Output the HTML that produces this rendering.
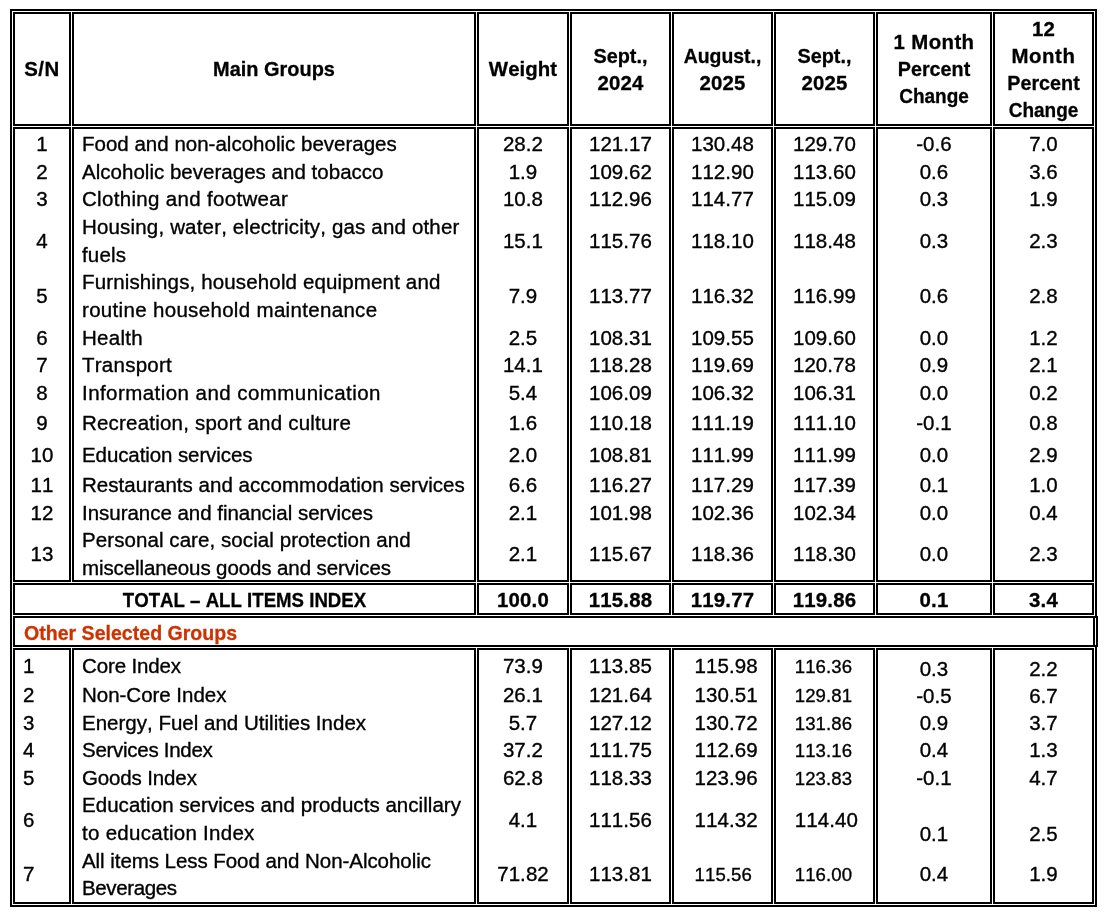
<!DOCTYPE html>
<html lang="en">
<head>
<meta charset="utf-8">
<title>Consumer Price Index by Main Groups</title>
<style>
html,body{margin:0;padding:0;background:#fff}
body{width:1106px;height:914px;position:relative;overflow:hidden;font-family:"Liberation Sans",sans-serif;color:#000;font-kerning:none}
#tb{position:absolute;left:10px;top:9px;width:1087px;height:898px;box-sizing:border-box;border:2px solid #000}
.bx{position:absolute;box-sizing:border-box;border:2px solid #000}
#nub{position:absolute;left:1095px;top:616px;width:3px;height:31px;box-sizing:border-box;background:#fff;border:2px solid #000;border-left:0}
.t{position:absolute;height:28px;line-height:28px;text-align:center;white-space:nowrap;font-weight:400;-webkit-text-stroke-width:0.35px}
.t.b{font-weight:700;-webkit-text-stroke-width:0.3px}
.t.l{text-align:left;transform-origin:0 50%}
</style>
</head>
<body>
<div id="tb"></div>
<!-- column headings -->
<section class="band head">
<div class="bx" style="left:13px;top:12px;width:58px;height:114px"></div>
<div class="bx" style="left:72px;top:12px;width:404px;height:114px"></div>
<div class="bx" style="left:477px;top:12px;width:92px;height:114px"></div>
<div class="bx" style="left:570px;top:12px;width:101px;height:114px"></div>
<div class="bx" style="left:672px;top:12px;width:101px;height:114px"></div>
<div class="bx" style="left:774px;top:12px;width:101px;height:114px"></div>
<div class="bx" style="left:876px;top:12px;width:116px;height:114px"></div>
<div class="bx" style="left:993px;top:12px;width:101px;height:114px"></div>
<div class="t b" style="left:13px;top:55.00px;width:58px;font-size:20.40px;letter-spacing:0.461px">S/N</div>
<div class="t b" style="left:72px;top:55.00px;width:404px;font-size:20.40px;transform:scaleX(0.9780)">Main Groups</div>
<div class="t b" style="left:477px;top:55.00px;width:92px;font-size:20.40px;letter-spacing:0.052px">Weight</div>
<div class="t b" style="left:570px;top:42.00px;width:101px;font-size:20.40px;transform:scaleX(0.9732)">Sept.,</div>
<div class="t b" style="left:570px;top:69.00px;width:101px;font-size:20.40px;letter-spacing:0.144px">2024</div>
<div class="t b" style="left:672px;top:42.00px;width:101px;font-size:20.40px;transform:scaleX(0.9513)">August.,</div>
<div class="t b" style="left:672px;top:69.00px;width:101px;font-size:20.40px;letter-spacing:0.144px">2025</div>
<div class="t b" style="left:774px;top:42.00px;width:101px;font-size:20.40px;transform:scaleX(0.9732)">Sept.,</div>
<div class="t b" style="left:774px;top:69.00px;width:101px;font-size:20.40px;letter-spacing:0.144px">2025</div>
<div class="t b" style="left:876px;top:28.00px;width:116px;font-size:20.40px;letter-spacing:0.375px">1 Month</div>
<div class="t b" style="left:876px;top:55.00px;width:116px;font-size:20.40px;transform:scaleX(0.9682)">Percent</div>
<div class="t b" style="left:876px;top:82.00px;width:116px;font-size:20.40px;transform:scaleX(0.9315)">Change</div>
<div class="t b" style="left:993px;top:15.00px;width:101px;font-size:20.40px;letter-spacing:0.144px">12</div>
<div class="t b" style="left:993px;top:42.00px;width:101px;font-size:20.40px;letter-spacing:0.604px">Month</div>
<div class="t b" style="left:993px;top:69.00px;width:101px;font-size:20.40px;transform:scaleX(0.9682)">Percent</div>
<div class="t b" style="left:993px;top:96.00px;width:101px;font-size:20.40px;transform:scaleX(0.9315)">Change</div>
</section>
<!-- main groups 1-13 -->
<section class="band groups">
<div class="bx" style="left:13px;top:127px;width:58px;height:455px"></div>
<div class="bx" style="left:72px;top:127px;width:404px;height:455px"></div>
<div class="bx" style="left:477px;top:127px;width:92px;height:455px"></div>
<div class="bx" style="left:570px;top:127px;width:101px;height:455px"></div>
<div class="bx" style="left:672px;top:127px;width:101px;height:455px"></div>
<div class="bx" style="left:774px;top:127px;width:101px;height:455px"></div>
<div class="bx" style="left:876px;top:127px;width:116px;height:455px"></div>
<div class="bx" style="left:993px;top:127px;width:101px;height:455px"></div>
<div class="t" style="left:13px;top:129.50px;width:58px;font-size:20.50px;letter-spacing:0.089px">1</div>
<div class="t l" style="left:82px;top:129.50px;width:390px;font-size:20.50px;letter-spacing:0.007px">Food and non-alcoholic beverages</div>
<div class="t" style="left:477px;top:129.50px;width:92px;font-size:20.50px;letter-spacing:0.073px">28.2</div>
<div class="t" style="left:570px;top:129.50px;width:101px;font-size:20.50px;letter-spacing:0.079px">121.17</div>
<div class="t" style="left:672px;top:129.50px;width:101px;font-size:20.50px;letter-spacing:0.079px">130.48</div>
<div class="t" style="left:774px;top:129.50px;width:101px;font-size:20.50px;letter-spacing:0.079px">129.70</div>
<div class="t" style="left:876px;top:129.50px;width:116px;font-size:20.50px;letter-spacing:0.080px">-0.6</div>
<div class="t" style="left:993px;top:129.50px;width:101px;font-size:20.50px;letter-spacing:0.068px">7.0</div>
<div class="t" style="left:13px;top:157.50px;width:58px;font-size:20.50px;letter-spacing:0.089px">2</div>
<div class="t l" style="left:82px;top:157.50px;width:390px;font-size:20.50px;letter-spacing:0.021px">Alcoholic beverages and tobacco</div>
<div class="t" style="left:477px;top:157.50px;width:92px;font-size:20.50px;letter-spacing:0.068px">1.9</div>
<div class="t" style="left:570px;top:157.50px;width:101px;font-size:20.50px;letter-spacing:0.079px">109.62</div>
<div class="t" style="left:672px;top:157.50px;width:101px;font-size:20.50px;letter-spacing:0.079px">112.90</div>
<div class="t" style="left:774px;top:157.50px;width:101px;font-size:20.50px;letter-spacing:0.079px">113.60</div>
<div class="t" style="left:876px;top:157.50px;width:116px;font-size:20.50px;letter-spacing:0.068px">0.6</div>
<div class="t" style="left:993px;top:157.50px;width:101px;font-size:20.50px;letter-spacing:0.068px">3.6</div>
<div class="t" style="left:13px;top:184.50px;width:58px;font-size:20.50px;letter-spacing:0.089px">3</div>
<div class="t l" style="left:82px;top:184.50px;width:390px;font-size:20.50px;letter-spacing:0.319px">Clothing and footwear</div>
<div class="t" style="left:477px;top:184.50px;width:92px;font-size:20.50px;letter-spacing:0.073px">10.8</div>
<div class="t" style="left:570px;top:184.50px;width:101px;font-size:20.50px;letter-spacing:0.079px">112.96</div>
<div class="t" style="left:672px;top:184.50px;width:101px;font-size:20.50px;letter-spacing:0.079px">114.77</div>
<div class="t" style="left:774px;top:184.50px;width:101px;font-size:20.50px;letter-spacing:0.079px">115.09</div>
<div class="t" style="left:876px;top:184.50px;width:116px;font-size:20.50px;letter-spacing:0.068px">0.3</div>
<div class="t" style="left:993px;top:184.50px;width:101px;font-size:20.50px;letter-spacing:0.068px">1.9</div>
<div class="t" style="left:13px;top:226.50px;width:58px;font-size:20.50px;letter-spacing:0.089px">4</div>
<div class="t l" style="left:82px;top:212.50px;width:390px;font-size:20.50px;letter-spacing:0.171px">Housing, water, electricity, gas and other</div>
<div class="t l" style="left:82px;top:240.50px;width:390px;font-size:20.50px;letter-spacing:0.175px">fuels</div>
<div class="t" style="left:477px;top:226.50px;width:92px;font-size:20.50px;letter-spacing:0.073px">15.1</div>
<div class="t" style="left:570px;top:226.50px;width:101px;font-size:20.50px;letter-spacing:0.079px">115.76</div>
<div class="t" style="left:672px;top:226.50px;width:101px;font-size:20.50px;letter-spacing:0.079px">118.10</div>
<div class="t" style="left:774px;top:226.50px;width:101px;font-size:20.50px;letter-spacing:0.079px">118.48</div>
<div class="t" style="left:876px;top:226.50px;width:116px;font-size:20.50px;letter-spacing:0.068px">0.3</div>
<div class="t" style="left:993px;top:226.50px;width:101px;font-size:20.50px;letter-spacing:0.068px">2.3</div>
<div class="t" style="left:13px;top:281.50px;width:58px;font-size:20.50px;letter-spacing:0.089px">5</div>
<div class="t l" style="left:82px;top:267.50px;width:390px;font-size:20.50px;letter-spacing:0.144px">Furnishings, household equipment and</div>
<div class="t l" style="left:82px;top:295.50px;width:390px;font-size:20.50px;letter-spacing:0.322px">routine household maintenance</div>
<div class="t" style="left:477px;top:281.50px;width:92px;font-size:20.50px;letter-spacing:0.068px">7.9</div>
<div class="t" style="left:570px;top:281.50px;width:101px;font-size:20.50px;letter-spacing:0.079px">113.77</div>
<div class="t" style="left:672px;top:281.50px;width:101px;font-size:20.50px;letter-spacing:0.079px">116.32</div>
<div class="t" style="left:774px;top:281.50px;width:101px;font-size:20.50px;letter-spacing:0.079px">116.99</div>
<div class="t" style="left:876px;top:281.50px;width:116px;font-size:20.50px;letter-spacing:0.068px">0.6</div>
<div class="t" style="left:993px;top:281.50px;width:101px;font-size:20.50px;letter-spacing:0.068px">2.8</div>
<div class="t" style="left:13px;top:323.50px;width:58px;font-size:20.50px;letter-spacing:0.089px">6</div>
<div class="t l" style="left:82px;top:323.50px;width:390px;font-size:20.50px;letter-spacing:0.285px">Health</div>
<div class="t" style="left:477px;top:323.50px;width:92px;font-size:20.50px;letter-spacing:0.068px">2.5</div>
<div class="t" style="left:570px;top:323.50px;width:101px;font-size:20.50px;letter-spacing:0.079px">108.31</div>
<div class="t" style="left:672px;top:323.50px;width:101px;font-size:20.50px;letter-spacing:0.079px">109.55</div>
<div class="t" style="left:774px;top:323.50px;width:101px;font-size:20.50px;letter-spacing:0.079px">109.60</div>
<div class="t" style="left:876px;top:323.50px;width:116px;font-size:20.50px;letter-spacing:0.068px">0.0</div>
<div class="t" style="left:993px;top:323.50px;width:101px;font-size:20.50px;letter-spacing:0.068px">1.2</div>
<div class="t" style="left:13px;top:350.50px;width:58px;font-size:20.50px;letter-spacing:0.089px">7</div>
<div class="t l" style="left:82px;top:350.50px;width:390px;font-size:20.50px;letter-spacing:0.247px">Transport</div>
<div class="t" style="left:477px;top:350.50px;width:92px;font-size:20.50px;letter-spacing:0.073px">14.1</div>
<div class="t" style="left:570px;top:350.50px;width:101px;font-size:20.50px;letter-spacing:0.079px">118.28</div>
<div class="t" style="left:672px;top:350.50px;width:101px;font-size:20.50px;letter-spacing:0.079px">119.69</div>
<div class="t" style="left:774px;top:350.50px;width:101px;font-size:20.50px;letter-spacing:0.079px">120.78</div>
<div class="t" style="left:876px;top:350.50px;width:116px;font-size:20.50px;letter-spacing:0.068px">0.9</div>
<div class="t" style="left:993px;top:350.50px;width:101px;font-size:20.50px;letter-spacing:0.068px">2.1</div>
<div class="t" style="left:13px;top:378.50px;width:58px;font-size:20.50px;letter-spacing:0.089px">8</div>
<div class="t l" style="left:82px;top:378.50px;width:390px;font-size:20.50px;letter-spacing:0.443px">Information and communication</div>
<div class="t" style="left:477px;top:378.50px;width:92px;font-size:20.50px;letter-spacing:0.068px">5.4</div>
<div class="t" style="left:570px;top:378.50px;width:101px;font-size:20.50px;letter-spacing:0.079px">106.09</div>
<div class="t" style="left:672px;top:378.50px;width:101px;font-size:20.50px;letter-spacing:0.079px">106.32</div>
<div class="t" style="left:774px;top:378.50px;width:101px;font-size:20.50px;letter-spacing:0.079px">106.31</div>
<div class="t" style="left:876px;top:378.50px;width:116px;font-size:20.50px;letter-spacing:0.068px">0.0</div>
<div class="t" style="left:993px;top:378.50px;width:101px;font-size:20.50px;letter-spacing:0.068px">0.2</div>
<div class="t" style="left:13px;top:408.50px;width:58px;font-size:20.50px;letter-spacing:0.089px">9</div>
<div class="t l" style="left:82px;top:408.50px;width:390px;font-size:20.50px;letter-spacing:0.206px">Recreation, sport and culture</div>
<div class="t" style="left:477px;top:408.50px;width:92px;font-size:20.50px;letter-spacing:0.068px">1.6</div>
<div class="t" style="left:570px;top:408.50px;width:101px;font-size:20.50px;letter-spacing:0.079px">110.18</div>
<div class="t" style="left:672px;top:408.50px;width:101px;font-size:20.50px;letter-spacing:0.079px">111.19</div>
<div class="t" style="left:774px;top:408.50px;width:101px;font-size:20.50px;letter-spacing:0.079px">111.10</div>
<div class="t" style="left:876px;top:408.50px;width:116px;font-size:20.50px;letter-spacing:0.080px">-0.1</div>
<div class="t" style="left:993px;top:408.50px;width:101px;font-size:20.50px;letter-spacing:0.068px">0.8</div>
<div class="t" style="left:13px;top:440.50px;width:58px;font-size:20.50px;letter-spacing:0.089px">10</div>
<div class="t l" style="left:82px;top:440.50px;width:390px;font-size:20.50px;letter-spacing:-0.095px">Education services</div>
<div class="t" style="left:477px;top:440.50px;width:92px;font-size:20.50px;letter-spacing:0.068px">2.0</div>
<div class="t" style="left:570px;top:440.50px;width:101px;font-size:20.50px;letter-spacing:0.079px">108.81</div>
<div class="t" style="left:672px;top:440.50px;width:101px;font-size:20.50px;letter-spacing:0.079px">111.99</div>
<div class="t" style="left:774px;top:440.50px;width:101px;font-size:20.50px;letter-spacing:0.079px">111.99</div>
<div class="t" style="left:876px;top:440.50px;width:116px;font-size:20.50px;letter-spacing:0.068px">0.0</div>
<div class="t" style="left:993px;top:440.50px;width:101px;font-size:20.50px;letter-spacing:0.068px">2.9</div>
<div class="t" style="left:13px;top:470.50px;width:58px;font-size:20.50px;letter-spacing:0.089px">11</div>
<div class="t l" style="left:82px;top:470.50px;width:390px;font-size:20.50px;letter-spacing:0.029px">Restaurants and accommodation services</div>
<div class="t" style="left:477px;top:470.50px;width:92px;font-size:20.50px;letter-spacing:0.068px">6.6</div>
<div class="t" style="left:570px;top:470.50px;width:101px;font-size:20.50px;letter-spacing:0.079px">116.27</div>
<div class="t" style="left:672px;top:470.50px;width:101px;font-size:20.50px;letter-spacing:0.079px">117.29</div>
<div class="t" style="left:774px;top:470.50px;width:101px;font-size:20.50px;letter-spacing:0.079px">117.39</div>
<div class="t" style="left:876px;top:470.50px;width:116px;font-size:20.50px;letter-spacing:0.068px">0.1</div>
<div class="t" style="left:993px;top:470.50px;width:101px;font-size:20.50px;letter-spacing:0.068px">1.0</div>
<div class="t" style="left:13px;top:498.50px;width:58px;font-size:20.50px;letter-spacing:0.089px">12</div>
<div class="t l" style="left:82px;top:498.50px;width:390px;font-size:20.50px;letter-spacing:-0.026px">Insurance and financial services</div>
<div class="t" style="left:477px;top:498.50px;width:92px;font-size:20.50px;letter-spacing:0.068px">2.1</div>
<div class="t" style="left:570px;top:498.50px;width:101px;font-size:20.50px;letter-spacing:0.079px">101.98</div>
<div class="t" style="left:672px;top:498.50px;width:101px;font-size:20.50px;letter-spacing:0.079px">102.36</div>
<div class="t" style="left:774px;top:498.50px;width:101px;font-size:20.50px;letter-spacing:0.079px">102.34</div>
<div class="t" style="left:876px;top:498.50px;width:116px;font-size:20.50px;letter-spacing:0.068px">0.0</div>
<div class="t" style="left:993px;top:498.50px;width:101px;font-size:20.50px;letter-spacing:0.068px">0.4</div>
<div class="t" style="left:13px;top:539.50px;width:58px;font-size:20.50px;letter-spacing:0.089px">13</div>
<div class="t l" style="left:82px;top:525.50px;width:390px;font-size:20.50px;letter-spacing:0.078px">Personal care, social protection and</div>
<div class="t l" style="left:82px;top:553.50px;width:390px;font-size:20.50px;letter-spacing:-0.105px">miscellaneous goods and services</div>
<div class="t" style="left:477px;top:539.50px;width:92px;font-size:20.50px;letter-spacing:0.068px">2.1</div>
<div class="t" style="left:570px;top:539.50px;width:101px;font-size:20.50px;letter-spacing:0.079px">115.67</div>
<div class="t" style="left:672px;top:539.50px;width:101px;font-size:20.50px;letter-spacing:0.079px">118.36</div>
<div class="t" style="left:774px;top:539.50px;width:101px;font-size:20.50px;letter-spacing:0.079px">118.30</div>
<div class="t" style="left:876px;top:539.50px;width:116px;font-size:20.50px;letter-spacing:0.068px">0.0</div>
<div class="t" style="left:993px;top:539.50px;width:101px;font-size:20.50px;letter-spacing:0.068px">2.3</div>
</section>
<!-- total row -->
<section class="band total">
<div class="bx" style="left:13px;top:583px;width:463px;height:32px"></div>
<div class="bx" style="left:477px;top:583px;width:92px;height:32px"></div>
<div class="bx" style="left:570px;top:583px;width:101px;height:32px"></div>
<div class="bx" style="left:672px;top:583px;width:101px;height:32px"></div>
<div class="bx" style="left:774px;top:583px;width:101px;height:32px"></div>
<div class="bx" style="left:876px;top:583px;width:116px;height:32px"></div>
<div class="bx" style="left:993px;top:583px;width:101px;height:32px"></div>
<div class="t b" style="left:13px;top:586.00px;width:463px;font-size:20.40px;transform:scaleX(0.9141)">TOTAL – ALL ITEMS INDEX</div>
<div class="t b" style="left:477px;top:586.00px;width:92px;font-size:20.40px;letter-spacing:0.193px">100.0</div>
<div class="t b" style="left:570px;top:586.00px;width:101px;font-size:20.40px;letter-spacing:0.185px">115.88</div>
<div class="t b" style="left:672px;top:586.00px;width:101px;font-size:20.40px;letter-spacing:0.185px">119.77</div>
<div class="t b" style="left:774px;top:586.00px;width:101px;font-size:20.40px;letter-spacing:0.185px">119.86</div>
<div class="t b" style="left:876px;top:586.00px;width:116px;font-size:20.40px;letter-spacing:0.225px">0.1</div>
<div class="t b" style="left:993px;top:586.00px;width:101px;font-size:20.40px;letter-spacing:0.225px">3.4</div>
</section>
<!-- other selected groups heading -->
<section class="band other">
<div class="bx" style="left:13px;top:616px;width:1082px;height:31px"></div>
<div id="nub"></div>
<div class="t b l" style="left:23.5px;top:619.00px;width:400px;font-size:20.40px;transform:scaleX(0.9594);color:#ce3200">Other Selected Groups</div>
</section>
<!-- other selected groups 1-7 -->
<section class="band selected">
<div class="bx" style="left:13px;top:648px;width:58px;height:256px"></div>
<div class="bx" style="left:72px;top:648px;width:404px;height:256px"></div>
<div class="bx" style="left:477px;top:648px;width:92px;height:256px"></div>
<div class="bx" style="left:570px;top:648px;width:101px;height:256px"></div>
<div class="bx" style="left:672px;top:648px;width:101px;height:256px"></div>
<div class="bx" style="left:774px;top:648px;width:101px;height:256px"></div>
<div class="bx" style="left:876px;top:648px;width:116px;height:256px"></div>
<div class="bx" style="left:993px;top:648px;width:101px;height:256px"></div>
<div class="t l" style="left:23px;top:651.50px;width:40px;font-size:20.50px;letter-spacing:0.089px">1</div>
<div class="t l" style="left:82px;top:651.50px;width:390px;font-size:20.50px;letter-spacing:-0.130px">Core Index</div>
<div class="t" style="left:477px;top:651.50px;width:92px;font-size:20.50px;letter-spacing:0.073px">73.9</div>
<div class="t" style="left:570px;top:651.50px;width:101px;font-size:20.50px;letter-spacing:0.079px">113.85</div>
<div class="t l" style="left:694.6px;top:651.50px;width:70px;font-size:20.50px;letter-spacing:0.079px">115.98</div>
<div class="t l" style="left:794.8px;top:652.50px;width:70px;font-size:18.59px;letter-spacing:0.071px">116.36</div>
<div class="t" style="left:876px;top:654.50px;width:116px;font-size:20.50px;letter-spacing:0.068px">0.3</div>
<div class="t" style="left:993px;top:654.50px;width:101px;font-size:20.50px;letter-spacing:0.068px">2.2</div>
<div class="t l" style="left:23px;top:680.50px;width:40px;font-size:20.50px;letter-spacing:0.089px">2</div>
<div class="t l" style="left:82px;top:680.50px;width:390px;font-size:20.50px;letter-spacing:-0.021px">Non-Core Index</div>
<div class="t" style="left:477px;top:680.50px;width:92px;font-size:20.50px;letter-spacing:0.073px">26.1</div>
<div class="t" style="left:570px;top:680.50px;width:101px;font-size:20.50px;letter-spacing:0.079px">121.64</div>
<div class="t l" style="left:694.6px;top:680.50px;width:70px;font-size:20.50px;letter-spacing:0.079px">130.51</div>
<div class="t l" style="left:794.8px;top:681.50px;width:70px;font-size:18.59px;letter-spacing:0.071px">129.81</div>
<div class="t" style="left:876px;top:681.50px;width:116px;font-size:20.50px;letter-spacing:0.080px">-0.5</div>
<div class="t" style="left:993px;top:681.50px;width:101px;font-size:20.50px;letter-spacing:0.068px">6.7</div>
<div class="t l" style="left:23px;top:708.50px;width:40px;font-size:20.50px;letter-spacing:0.089px">3</div>
<div class="t l" style="left:82px;top:708.50px;width:390px;font-size:20.50px;letter-spacing:0.010px">Energy, Fuel and Utilities Index</div>
<div class="t" style="left:477px;top:708.50px;width:92px;font-size:20.50px;letter-spacing:0.068px">5.7</div>
<div class="t" style="left:570px;top:708.50px;width:101px;font-size:20.50px;letter-spacing:0.079px">127.12</div>
<div class="t l" style="left:694.6px;top:708.50px;width:70px;font-size:20.50px;letter-spacing:0.079px">130.72</div>
<div class="t l" style="left:794.8px;top:709.50px;width:70px;font-size:18.59px;letter-spacing:0.071px">131.86</div>
<div class="t" style="left:876px;top:708.50px;width:116px;font-size:20.50px;letter-spacing:0.068px">0.9</div>
<div class="t" style="left:993px;top:708.50px;width:101px;font-size:20.50px;letter-spacing:0.068px">3.7</div>
<div class="t l" style="left:23px;top:735.50px;width:40px;font-size:20.50px;letter-spacing:0.089px">4</div>
<div class="t l" style="left:82px;top:735.50px;width:390px;font-size:20.50px;letter-spacing:-0.280px">Services Index</div>
<div class="t" style="left:477px;top:735.50px;width:92px;font-size:20.50px;letter-spacing:0.073px">37.2</div>
<div class="t" style="left:570px;top:735.50px;width:101px;font-size:20.50px;letter-spacing:0.079px">111.75</div>
<div class="t l" style="left:694.6px;top:735.50px;width:70px;font-size:20.50px;letter-spacing:0.079px">112.69</div>
<div class="t l" style="left:794.8px;top:736.50px;width:70px;font-size:18.59px;letter-spacing:0.071px">113.16</div>
<div class="t" style="left:876px;top:735.50px;width:116px;font-size:20.50px;letter-spacing:0.068px">0.4</div>
<div class="t" style="left:993px;top:735.50px;width:101px;font-size:20.50px;letter-spacing:0.068px">1.3</div>
<div class="t l" style="left:23px;top:763.50px;width:40px;font-size:20.50px;letter-spacing:0.089px">5</div>
<div class="t l" style="left:82px;top:763.50px;width:390px;font-size:20.50px;letter-spacing:-0.136px">Goods Index</div>
<div class="t" style="left:477px;top:763.50px;width:92px;font-size:20.50px;letter-spacing:0.073px">62.8</div>
<div class="t" style="left:570px;top:763.50px;width:101px;font-size:20.50px;letter-spacing:0.079px">118.33</div>
<div class="t l" style="left:694.6px;top:763.50px;width:70px;font-size:20.50px;letter-spacing:0.079px">123.96</div>
<div class="t l" style="left:794.8px;top:764.50px;width:70px;font-size:18.59px;letter-spacing:0.071px">123.83</div>
<div class="t" style="left:876px;top:763.50px;width:116px;font-size:20.50px;letter-spacing:0.080px">-0.1</div>
<div class="t" style="left:993px;top:763.50px;width:101px;font-size:20.50px;letter-spacing:0.068px">4.7</div>
<div class="t l" style="left:23px;top:805.50px;width:40px;font-size:20.50px;letter-spacing:0.089px">6</div>
<div class="t l" style="left:82px;top:790.50px;width:390px;font-size:20.50px;letter-spacing:0.045px">Education services and products ancillary</div>
<div class="t l" style="left:82px;top:818.50px;width:390px;font-size:20.50px;letter-spacing:0.283px">to education Index</div>
<div class="t" style="left:477px;top:805.50px;width:92px;font-size:20.50px;letter-spacing:0.068px">4.1</div>
<div class="t" style="left:570px;top:805.50px;width:101px;font-size:20.50px;letter-spacing:0.079px">111.56</div>
<div class="t l" style="left:694.6px;top:805.50px;width:70px;font-size:20.50px;letter-spacing:0.079px">114.32</div>
<div class="t l" style="left:794.8px;top:805.50px;width:70px;font-size:20.50px;letter-spacing:0.079px">114.40</div>
<div class="t" style="left:876px;top:819.50px;width:116px;font-size:20.50px;letter-spacing:0.068px">0.1</div>
<div class="t" style="left:993px;top:819.50px;width:101px;font-size:20.50px;letter-spacing:0.068px">2.5</div>
<div class="t l" style="left:23px;top:859.50px;width:40px;font-size:20.50px;letter-spacing:0.089px">7</div>
<div class="t l" style="left:82px;top:846.50px;width:390px;font-size:20.50px;letter-spacing:-0.057px">All items Less Food and Non-Alcoholic</div>
<div class="t l" style="left:82px;top:873.50px;width:390px;font-size:20.50px;letter-spacing:-0.366px">Beverages</div>
<div class="t" style="left:477px;top:859.50px;width:92px;font-size:20.50px;letter-spacing:0.077px">71.82</div>
<div class="t" style="left:570px;top:859.50px;width:101px;font-size:20.50px;letter-spacing:0.079px">113.81</div>
<div class="t l" style="left:694.6px;top:860.50px;width:70px;font-size:18.59px;letter-spacing:0.071px">115.56</div>
<div class="t l" style="left:794.8px;top:860.50px;width:70px;font-size:18.59px;letter-spacing:0.071px">116.00</div>
<div class="t" style="left:876px;top:859.50px;width:116px;font-size:20.50px;letter-spacing:0.068px">0.4</div>
<div class="t" style="left:993px;top:859.50px;width:101px;font-size:20.50px;letter-spacing:0.068px">1.9</div>
</section>
</body>
</html>
